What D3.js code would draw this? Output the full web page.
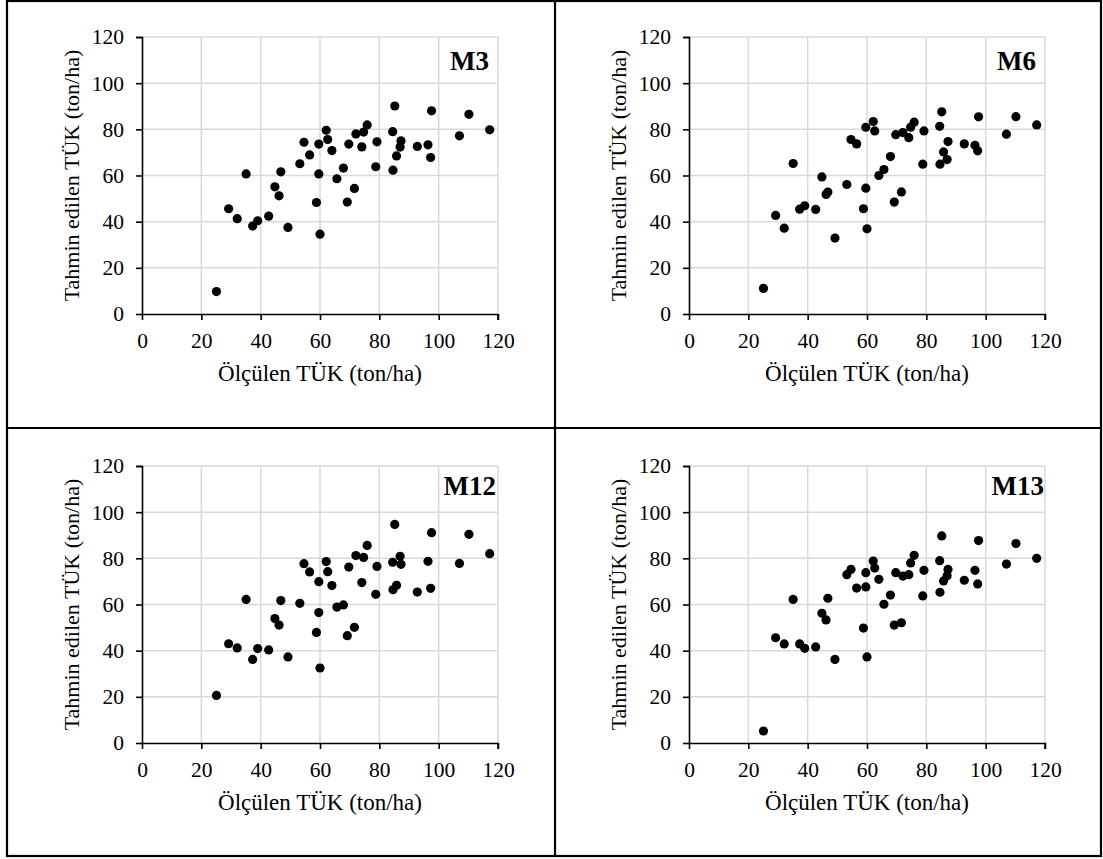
<!DOCTYPE html>
<html>
<head>
<meta charset="utf-8">
<script src="https://d3js.org/d3.v7.min.js"></script>
<style>
  body { margin: 0; background: #fff; }
  svg text { font-family: 'Liberation Serif', 'Times New Roman', 'DejaVu Serif', serif !important; fill: #000; }
</style>
</head>
<body>
<div id="chart"></div>
<script>
// measured values (same for every model)
const measured = [25.1, 29.2, 32.1, 35.1, 37.3, 39.0, 42.7, 44.8, 46.2, 46.8, 49.2, 53.2, 54.6, 56.5, 58.8,
  59.6, 59.6, 60.0, 62.1, 62.6, 64.0, 65.7, 67.9, 69.2, 69.7, 71.6, 72.1, 74.1, 74.7, 75.9,
  78.8, 79.2, 84.5, 84.6, 85.2, 85.8, 87.0, 87.3, 92.8, 96.4, 97.3, 97.6, 107.0, 110.2, 117.2];

// predicted values per model
const predM3 = [9.7, 45.6, 41.3, 60.7, 38.1, 40.4, 42.4, 55.1, 51.2, 61.6, 37.5, 65.1, 74.4, 68.9, 48.3,
  60.7, 73.6, 34.6, 79.6, 75.6, 70.8, 58.6, 63.2, 48.5, 73.6, 54.4, 78.0, 72.4, 78.8, 81.9,
  63.8, 74.6, 79.0, 62.3, 90.1, 68.5, 72.3, 75.0, 72.6, 73.3, 67.8, 88.0, 77.2, 86.5, 79.8];
const predM6 = [11.1, 42.7, 37.2, 65.2, 45.4, 46.9, 45.3, 59.4, 51.8, 52.8, 32.9, 56.1, 75.6, 73.7, 45.6,
  54.5, 80.9, 36.9, 83.4, 79.3, 60.0, 62.6, 68.2, 48.5, 77.7, 52.9, 78.6, 76.4, 80.9, 83.1,
  64.9, 79.3, 81.3, 64.9, 87.6, 70.2, 66.9, 74.7, 73.7, 73.1, 70.7, 85.4, 77.9, 85.5, 81.9];
const predM12 = [20.6, 43.0, 41.2, 62.2, 36.2, 40.9, 40.3, 53.9, 51.1, 61.7, 37.3, 60.5, 77.7, 74.1, 47.9,
  56.5, 69.9, 32.5, 78.6, 74.2, 68.2, 58.9, 59.8, 46.5, 76.2, 50.1, 81.2, 69.5, 80.4, 85.6,
  64.4, 76.5, 78.3, 66.4, 94.7, 68.3, 80.9, 77.4, 65.4, 78.7, 67.0, 91.1, 77.8, 90.4, 82.0];
const predM13 = [5.2, 45.6, 42.9, 62.2, 42.9, 41.0, 41.6, 56.2, 53.3, 62.7, 36.2, 72.9, 75.2, 67.1, 49.8,
  67.6, 73.8, 37.3, 78.8, 75.8, 70.9, 60.1, 64.1, 51.1, 73.8, 52.1, 72.3, 72.9, 78.0, 81.3,
  63.7, 74.8, 79.0, 65.3, 89.7, 70.2, 72.5, 75.2, 70.5, 74.8, 68.9, 87.7, 77.5, 86.4, 80.0];

const modelNames = ["M3", "M6", "M12", "M13"];
const modelPreds = [predM3, predM6, predM12, predM13];
const tickValues = [0, 20, 40, 60, 80, 100, 120];
const xTitle = "Ölçülen TÜK (ton/ha)";
const yTitle = "Tahmin edilen TÜK (ton/ha)";

const W = 1103, H = 859;
const svg = d3.select("#chart").append("svg")
  .attr("width", W).attr("height", H)
  .attr("font-family", "Liberation Serif");

// panel frame lines
const frame = svg.append("g").attr("stroke", "#000").attr("stroke-width", 2.2).attr("fill", "none");
frame.append("rect").attr("x", 7).attr("y", 1).attr("width", 1094).attr("height", 855);
frame.append("line").attr("x1", 555).attr("x2", 555).attr("y1", 1).attr("y2", 856);
frame.append("line").attr("x1", 7).attr("x2", 1101).attr("y1", 428).attr("y2", 428);

const plotW = 356, plotH = 277;
const origins = [[142, 37], [689, 37], [142, 466], [689, 466]];
const labelPos = [[347, 33], [347, 33], [354, 29], [355, 29]];

const x = d3.scaleLinear().domain([0, 120]).range([0, plotW]);
const y = d3.scaleLinear().domain([0, 120]).range([plotH, 0]);

modelNames.forEach((name, k) => {
  const preds = modelPreds[k];
  const pts = measured.map((m, i) => ({ m: m, p: preds[i] }));
  const g = svg.append("g")
    .attr("transform", `translate(${origins[k][0]},${origins[k][1]})`);

  // gridlines
  g.append("g").selectAll("line").data(tickValues.slice(1)).join("line")
    .attr("x1", d => x(d)).attr("x2", d => x(d))
    .attr("y1", 0).attr("y2", plotH)
    .attr("stroke", "#d9d9d9").attr("stroke-width", 1.5);
  g.append("g").selectAll("line").data(tickValues.slice(1)).join("line")
    .attr("x1", 0).attr("x2", plotW)
    .attr("y1", d => y(d)).attr("y2", d => y(d))
    .attr("stroke", "#d9d9d9").attr("stroke-width", 1.5);

  // axes
  const xa = g.append("g").attr("transform", `translate(0,${plotH})`)
    .call(d3.axisBottom(x).tickValues(tickValues).tickSize(6).tickPadding(13));
  const ya = g.append("g")
    .call(d3.axisLeft(y).tickValues(tickValues).tickSize(6).tickPadding(12));
  [xa, ya].forEach(a => {
    a.attr("font-family", null).attr("font-size", null);
    a.select(".domain").attr("stroke", "#000").attr("stroke-width", 1.6);
    a.selectAll(".tick line").attr("stroke", "#000").attr("stroke-width", 1.6);
    a.selectAll(".tick text")
      .style("font-size", "21.5px").attr("fill", "#000");
  });
  ya.select(".domain").attr("d", `M-6,0.5H0.5V${plotH}`);
  xa.select(".domain").attr("d", `M0.5,0V0.5H${plotW}V6`);

  // points
  g.append("g").selectAll("circle").data(pts).join("circle")
    .attr("cx", d => x(d.m)).attr("cy", d => y(d.p))
    .attr("r", 4.6).attr("fill", "#000");

  // model label
  g.append("text")
    .attr("x", labelPos[k][0]).attr("y", labelPos[k][1])
    .attr("text-anchor", "end")
    .style("font-size", "27px").style("font-weight", "bold")
    .text(name);

  // axis titles
  g.append("text")
    .attr("x", plotW / 2).attr("y", plotH + 67)
    .attr("text-anchor", "middle")
    .style("font-size", "23px")
    .text(xTitle);
  g.append("text")
    .attr("transform", `translate(-63,${plotH / 2}) rotate(-90)`)
    .attr("text-anchor", "middle")
    .style("font-size", "22px")
    .text(yTitle);
});
</script>
</body>
</html>
